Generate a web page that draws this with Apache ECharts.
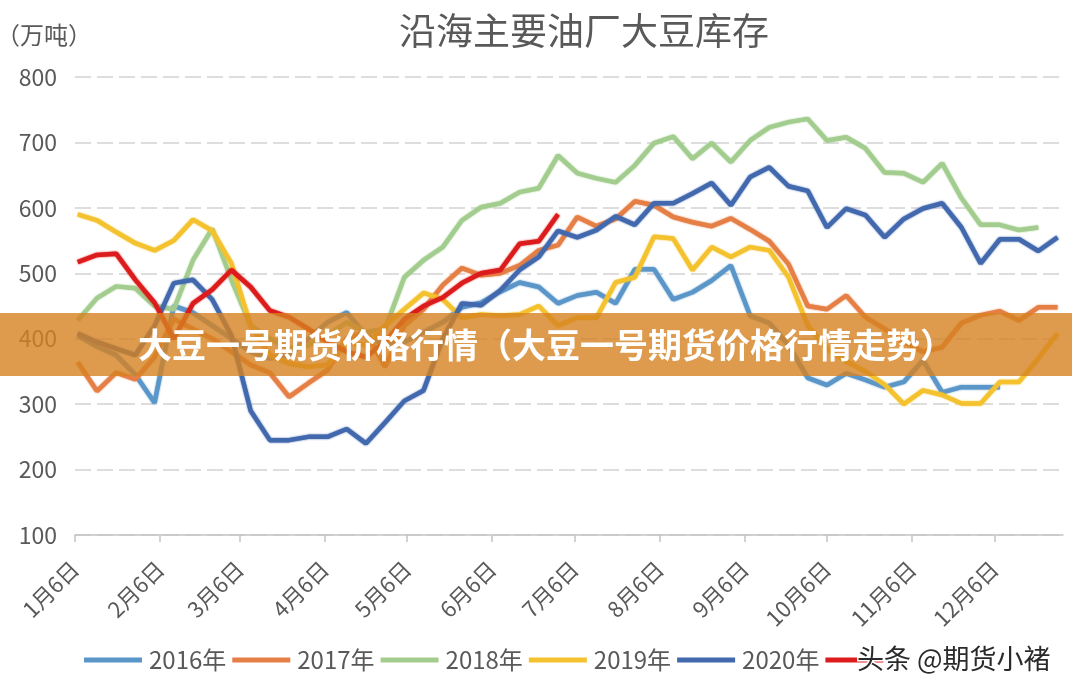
<!DOCTYPE html>
<html>
<head>
<meta charset="utf-8">
<script src="https://cdn.jsdelivr.net/npm/echarts@6/dist/echarts.min.js"></script>
<style>html,body{margin:0;padding:0;background:#fff;}#c{width:1072px;height:690px;}</style>
</head>
<body>
<div id="c"></div>
<script>
// ---- data ----
const monthDays = [0, 31, 60, 91, 121, 152, 182, 213, 244, 274, 305, 335];
const monthLabels = ['1月6日','2月6日','3月6日','4月6日','5月6日','6月6日','7月6日','8月6日','9月6日','10月6日','11月6日','12月6日'];
const seriesNames = ['2016年','2017年','2018年','2019年','2020年','2021年'];
const yTicks = [100, 200, 300, 400, 500, 600, 700, 800];
// weekly readings (万吨), week k sits at day 7k+1 after 1月6日
const s2016 = [405,388,375,345,302,450,440,420,400,380,370,375,400,425,440,405,390,395,410,425,448,455,472,486,479,454,466,471,454,506,506,460,471,489,512,435,424,390,340,329,347,337,326,334,367,318,326,326,326];
const s2017 = [364,320,348,338,372,430,415,400,380,360,348,311,332,352,400,410,357,420,445,482,508,497,500,512,535,543,586,572,583,610,604,586,578,572,584,567,549,514,450,445,466,433,415,395,380,387,424,436,442,428,448,448];
const s2018 = [428,462,480,477,450,445,520,568,490,420,400,385,390,405,425,410,415,494,520,540,581,601,607,624,630,680,653,645,639,665,699,709,675,699,670,703,723,731,736,703,708,691,654,653,639,668,615,574,574,566,570];
const s2019 = [590,581,563,546,535,550,582,565,515,420,375,362,357,360,395,390,420,445,470,460,432,437,435,437,450,420,432,432,486,494,556,553,505,540,525,540,535,494,420,385,365,350,330,300,321,314,301,301,334,334,370,408];
const s2020 = [408,395,385,375,420,485,490,460,405,290,245,245,250,250,262,240,272,305,321,400,454,451,474,505,525,565,555,566,587,574,607,607,622,638,604,647,662,633,626,570,599,589,555,583,599,607,570,515,552,552,534,555];
const s2021 = [517,528,530,490,455,400,454,475,505,479,443,433,415,395,380,372,395,430,450,463,485,500,505,545,549,590];
const allSeries = [s2016, s2017, s2018, s2019, s2020, s2021];
const colors = ['#5B96C9', '#E57F45', '#A2CD8E', '#F4C22E', '#4268AE', '#DC1C1C'];

const FONT = '"Noto Sans CJK SC", "Noto Sans", sans-serif';
const chart = echarts.init(document.getElementById('c'), null, {renderer: 'canvas'});

const toPairs = arr => arr.map((v, k) => [7 * k + 1, v]);

chart.setOption({
  backgroundColor: '#ffffff',
  animation: false,
  textStyle: {fontFamily: FONT},
  title: {
    text: '沿海主要油厂大豆库存',
    left: 394, top: 7,
    textStyle: {fontSize: 37, fontWeight: 'normal', color: '#595959', fontFamily: FONT}
  },
  grid: {left: 75, right: 9, top: 77, bottom: 155},
  legend: {
    left: 79, top: 643,
    itemWidth: 58, itemHeight: 5, itemGap: 6,
    icon: 'rect',
    data: seriesNames.map((n, i) => i === 5
      ? {name: n, textStyle: {color: 'rgba(0,0,0,0)'}}
      : {name: n}),
    textStyle: {fontSize: 24, color: '#595959', fontFamily: FONT, width: 80, padding: [0, 0, 0, 2]}
  },
  xAxis: {
    type: 'value', min: 0, max: 360,
    axisLine: {show: true, lineStyle: {color: '#c4c4c4', width: 1.5}},
    axisTick: {show: true, length: 7, lineStyle: {color: '#c4c4c4', width: 1.5}, customValues: monthDays},
    splitLine: {show: false},
    axisLabel: {
      customValues: monthDays,
      rotate: 45, margin: 30,
      fontSize: 22, color: '#595959', fontFamily: FONT,
      formatter: v => monthLabels[monthDays.indexOf(v)] || ''
    }
  },
  yAxis: {
    type: 'value', min: yTicks[0], max: yTicks[yTicks.length - 1], interval: 100,
    axisLine: {show: false}, axisTick: {show: false},
    axisLabel: {fontSize: 23, color: '#595959', margin: 18, fontFamily: FONT},
    splitLine: {show: true, lineStyle: {color: '#d2d2d2', width: 1.5, type: [16, 6]}}
  },
  series: allSeries.map((arr, i) => ({
    name: seriesNames[i],
    type: 'line',
    data: toPairs(arr),
    showSymbol: false,
    color: colors[i],
    lineStyle: {width: 4.5, color: colors[i], shadowColor: colors[i], shadowBlur: 2},
    z: 2 + i
  })),
  graphic: [
    {type: 'rect', z: 100, shape: {x: 0, y: 313, width: 1072, height: 63},
     style: {fill: 'rgba(214,130,32,0.8)'}},
    {type: 'text', z: 101, x: 138, y: 345,
     style: {text: '大豆一号期货价格行情（大豆一号期货价格行情走势）', fill: '#ffffff',
             fontSize: 34, fontWeight: 'bold', fontFamily: FONT, verticalAlign: 'middle'}},
    {type: 'text', z: 102, x: -4, y: 35,
     style: {text: '（万吨）', fill: '#595959', fontSize: 24, fontFamily: FONT, verticalAlign: 'middle'}},
    {type: 'text', z: 102, x: 857, y: 659,
     style: {text: '头条 @期货小褚', fill: '#2a2a2a', stroke: '#ffffff', lineWidth: 3,
             fontSize: 27, fontFamily: FONT, verticalAlign: 'middle'}}
  ]
});
</script>
</body>
</html>
